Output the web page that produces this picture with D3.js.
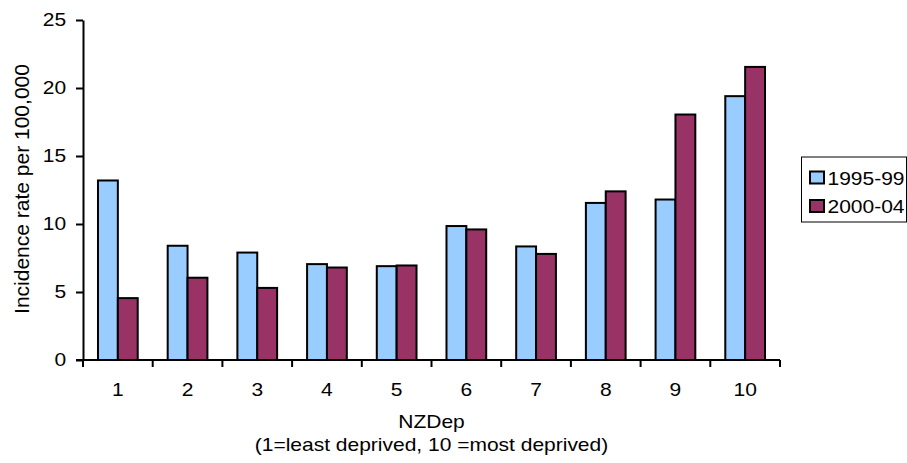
<!DOCTYPE html>
<html>
<head>
    <script src="https://cdnjs.cloudflare.com/ajax/libs/d3/7.8.5/d3.min.js"></script>
    <style>
        body { margin: 0; background: #fff; font-family: "Liberation Sans", Arial, sans-serif; }
        .axis path, .axis line { stroke: #000; stroke-width: 2; }
        .axis text { font-size: 17.5px; fill: #000; font-family: "Liberation Sans", Arial, sans-serif; }
        text { font-size: 17.5px; fill: #000; }
    </style>
</head>
<body>
    <div id="chart"></div>
    <script>
        // values
        const categories = ["1", "2", "3", "4", "5", "6", "7", "8", "9", "10"];
        const seriesNames = ["1995-99", "2000-04"];
        const rate1995 = [13.2, 8.4, 7.9, 7.05, 6.9, 9.85, 8.35, 11.55, 11.8, 19.4];
        const rate2000 = [4.55, 6.05, 5.3, 6.8, 6.95, 9.6, 7.8, 12.4, 18.05, 21.55];
        const yTicks = [0, 5, 10, 15, 20, 25];
        const colors = ["#99ccff", "#993366"];

        // the source picture is a bit wider than tall, text is stretched sideways
        const SX = 1.2;

        const W = 907, H = 463;
        const margin = { top: 20, right: 127, bottom: 103, left: 83 };
        const width = W - margin.left - margin.right;
        const height = H - margin.top - margin.bottom;

        const svg = d3.select('#chart').append('svg')
            .attr('width', W).attr('height', H);
        const g = svg.append('g')
            .attr('transform', `translate(${margin.left},${margin.top})`);

        const x = d3.scaleBand().domain(categories).range([0, width]).paddingInner(0.43).paddingOuter(0.215);
        const x1 = d3.scaleBand().domain(seriesNames).range([0, x.bandwidth()]);
        const y = d3.scaleLinear().domain([0, 25]).range([height, 0]);

        const rows = categories.map((c, i) => ({ cat: c, vals: [rate1995[i], rate2000[i]] }));

        g.selectAll('.grp').data(rows).enter().append('g')
            .attr('transform', d => `translate(${x(d.cat)},0)`)
            .selectAll('rect')
            .data(d => d.vals.map((v, j) => ({ s: seriesNames[j], v, j })))
            .enter().append('rect')
            .attr('x', d => x1(d.s))
            .attr('y', d => y(d.v))
            .attr('width', x1.bandwidth())
            .attr('height', d => height - y(d.v))
            .attr('fill', d => colors[d.j])
            .attr('stroke', '#000')
            .attr('stroke-width', 2);

        // y axis
        g.append('g').attr('class', 'axis')
            .call(d3.axisLeft(y).tickValues(yTicks).tickSize(7).tickSizeOuter(0).tickPadding(7))
            .selectAll('text').attr('transform', `scale(${SX},1)`);

        // x axis with ticks between categories
        const xa = g.append('g').attr('class', 'axis')
            .attr('transform', `translate(0,${height})`);
        xa.append('line').attr('x1', -7).attr('x2', width).attr('y1', 0).attr('y2', 0);
        const step = x.step();
        const bounds = d3.range(categories.length + 1).map(i => x(categories[0]) - x.paddingOuter() * step + i * step);
        xa.selectAll('.tk').data(bounds).enter().append('line')
            .attr('x1', d => d).attr('x2', d => d).attr('y1', 0).attr('y2', 7);
        xa.selectAll('.lb').data(categories).enter().append('text')
            .attr('transform', d => `translate(${x(d) + x.bandwidth() / 2},36) scale(${SX},1)`)
            .attr('text-anchor', 'middle')
            .text(d => d);

        // axis titles
        g.append('text')
            .attr('transform', `translate(${width / 2},${height + 68}) scale(${SX},1)`)
            .attr('text-anchor', 'middle')
            .text('NZDep');
        g.append('text')
            .attr('transform', `translate(${width / 2},${height + 91}) scale(${SX},1)`)
            .attr('text-anchor', 'middle')
            .text('(1=least deprived, 10 =most deprived)');
        svg.append('text')
            .attr('transform', `translate(29,189) rotate(-90)`)
            .attr('text-anchor', 'middle')
            .style('font-size', '21px')
            .text('Incidence rate per 100,000');

        // legend
        const lg = svg.append('g').attr('transform', 'translate(801.5,157)');
        lg.append('rect').attr('width', 105).attr('height', 65)
            .attr('fill', '#fff').attr('stroke', '#000').attr('stroke-width', 1);
        seriesNames.forEach((s, i) => {
            lg.append('rect').attr('x', 8.5).attr('y', 14.5 + i * 28.5)
                .attr('width', 14).attr('height', 12)
                .attr('fill', colors[i]).attr('stroke', '#000').attr('stroke-width', 2);
            lg.append('text')
                .attr('transform', `translate(26,${27.5 + i * 28.5}) scale(${SX},1)`)
                .text(s);
        });
    </script>
</body>
</html>
